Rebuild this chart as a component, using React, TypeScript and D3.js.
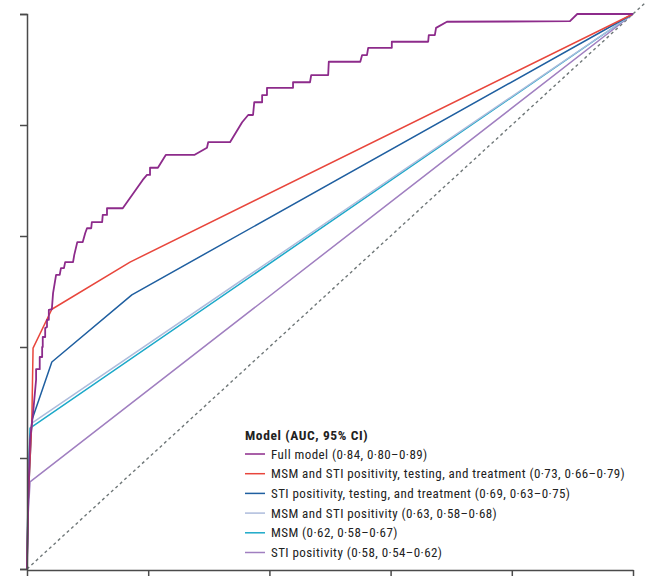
import React, { useEffect, useRef } from 'react';
import * as d3 from 'd3';

type Pt = [number, number];

// false positive rate, true positive rate
const fullModel: Pt[] = [
  [0, 0], [0.002, 0.124], [0.005, 0.232], [0.010, 0.281], [0.015, 0.341], [0.015, 0.360],
  [0.021, 0.360], [0.021, 0.382], [0.025, 0.382], [0.025, 0.400], [0.026, 0.400], [0.026, 0.418],
  [0.030, 0.418], [0.030, 0.434], [0.033, 0.436], [0.033, 0.449], [0.036, 0.449], [0.036, 0.467],
  [0.041, 0.468], [0.043, 0.497], [0.048, 0.530], [0.054, 0.530], [0.056, 0.542], [0.061, 0.542],
  [0.063, 0.553], [0.076, 0.553], [0.078, 0.566], [0.083, 0.589], [0.092, 0.589], [0.096, 0.605],
  [0.099, 0.614], [0.106, 0.614], [0.107, 0.625], [0.124, 0.625], [0.125, 0.638], [0.132, 0.638],
  [0.132, 0.650], [0.158, 0.650], [0.191, 0.701], [0.198, 0.710], [0.203, 0.710], [0.203, 0.723],
  [0.216, 0.723], [0.229, 0.746], [0.276, 0.746], [0.297, 0.759], [0.299, 0.769], [0.335, 0.769],
  [0.355, 0.805], [0.365, 0.818], [0.373, 0.818], [0.375, 0.841], [0.388, 0.841], [0.388, 0.854],
  [0.396, 0.854], [0.396, 0.867], [0.439, 0.867], [0.439, 0.877], [0.467, 0.877], [0.469, 0.890],
  [0.497, 0.890], [0.498, 0.914], [0.550, 0.914], [0.553, 0.926], [0.561, 0.926], [0.563, 0.939],
  [0.602, 0.939], [0.602, 0.950], [0.662, 0.950], [0.663, 0.962], [0.673, 0.962], [0.675, 0.975],
  [0.693, 0.986], [0.896, 0.987], [0.908, 1], [1, 1],
];
const msmStiTestTreat: Pt[] = [[0, 0], [0.002, 0.124], [0.008, 0.268], [0.010, 0.398], [0.041, 0.468], [0.170, 0.553], [1, 1]];
const stiTestTreat: Pt[] = [[0, 0], [0.002, 0.124], [0.008, 0.268], [0.041, 0.373], [0.173, 0.494], [1, 1]];
const msmSti: Pt[] = [[0, 0], [0.002, 0.160], [0.008, 0.263], [1, 1]];
const msm: Pt[] = [[0, 0], [0.002, 0.160], [0.005, 0.254], [1, 1]];
const stiPos: Pt[] = [[0, 0], [0.002, 0.100], [0.005, 0.157], [1, 1]];
const chance: Pt[] = [[0, 0], [1.02, 1.02]];

const labels = [
  'Full model (0·84, 0·80–0·89)',
  'MSM and STI positivity, testing, and treatment (0·73, 0·66–0·79)',
  'STI positivity, testing, and treatment (0·69, 0·63–0·75)',
  'MSM and STI positivity (0·63, 0·58–0·68)',
  'MSM (0·62, 0·58–0·67)',
  'STI positivity (0·58, 0·54–0·62)',
];
const colors = ['#8d2b8b', '#e8463c', '#1f5fa0', '#aebcdc', '#1ca9c9', '#a07fc0'];
const series = [fullModel, msmStiTestTreat, stiTestTreat, msmSti, msm, stiPos];
const ticks = [0, 0.2, 0.4, 0.6, 0.8, 1];

export default function App() {
  const xRef = useRef<SVGGElement>(null);
  const yRef = useRef<SVGGElement>(null);

  const x = d3.scaleLinear().domain([0, 1]).range([27, 633]);
  const y = d3.scaleLinear().domain([0, 1]).range([569, 14]);
  const line = d3.line<Pt>().x(d => x(d[0])).y(d => y(d[1]));

  useEffect(() => {
    document.body.style.margin = '0';
    const ax = d3.select(xRef.current!);
    ax.call(d3.axisBottom(x).tickValues(ticks).tickSize(7).tickSizeOuter(0).tickFormat(() => ''));
    const ay = d3.select(yRef.current!);
    ay.call(d3.axisLeft(y).tickValues(ticks).tickSize(7).tickSizeOuter(7).tickFormat(() => ''));
    [ax, ay].forEach(a => {
      a.selectAll('path,line').attr('stroke', '#4a4a4a').attr('stroke-width', 1.5);
    });
  }, []);

  return (
    <svg width={652} height={576} style={{ display: 'block', background: '#fff' }}>
      <path d={line(chance) || ''} fill="none" stroke="#6f7778" strokeWidth={1.4} strokeDasharray="3,3" />
      {series.map((s, i) => (
        <path key={i} d={line(s) || ''} fill="none" stroke={colors[i]} strokeWidth={i === 0 ? 1.8 : 1.5}
          strokeLinejoin="round" />
      )).reverse()}
      <g ref={xRef} transform={`translate(0,${y(0) + 1})`} />
      <g ref={yRef} transform={`translate(${x(0)},0)`} />
      <g fontFamily="'Liberation Sans Narrow', 'Roboto Condensed', Roboto, sans-serif" fill="#222">
        <text x={245} y={440} fontSize={13.5} fontWeight="bold" letterSpacing={0.6}>Model (AUC, 95% CI)</text>
        {labels.map((l, i) => (
          <g key={i} transform={`translate(0,${454 + i * 19.7})`}>
            <line x1={245} x2={265} y1={0} y2={0} stroke={colors[i]} strokeWidth={1.5} />
            <text x={271} y={4.5} fontSize={13} letterSpacing={0.43}>{l}</text>
          </g>
        ))}
      </g>
    </svg>
  );
}
